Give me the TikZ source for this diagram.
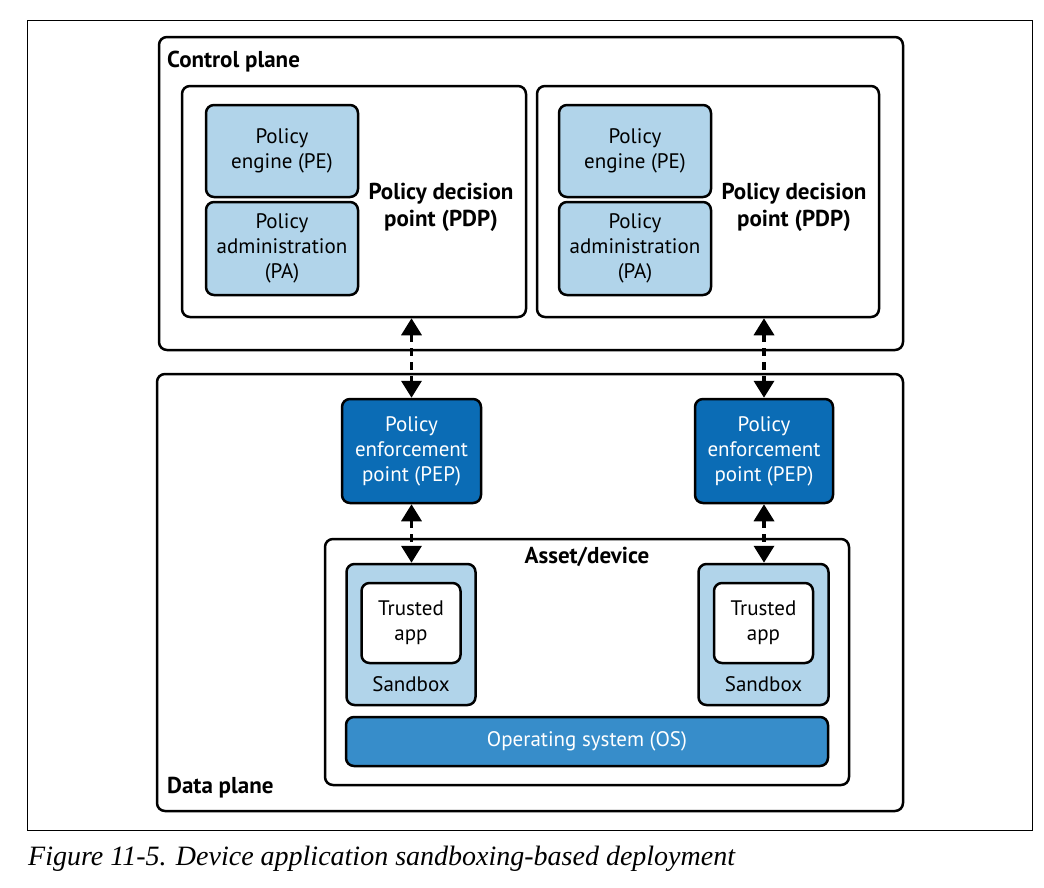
\documentclass[tikz,border=0pt]{standalone}
\usepackage{fontspec}
\setmainfont{PT Sans}
\newfontfamily\capfont{Liberation Serif}
\usetikzlibrary{arrows.meta}
\definecolor{lightblue}{HTML}{B1D4EA}
\definecolor{pepblue}{HTML}{0B6CB5}
\definecolor{osblue}{HTML}{378DCA}
\begin{document}
\begin{tikzpicture}[x=1pt,y=-1pt,
  box/.style={draw, line width=2.5pt, rounded corners=8pt, inner sep=0pt, align=center},
  plain/.style={box, fill=white},
  lb/.style={box, fill=lightblue, font=\fontsize{21}{25}\selectfont},
  pep/.style={box, fill=pepblue, text=white, font=\fontsize{21}{25}\selectfont},
  os/.style={box, fill=osblue, text=white, font=\fontsize{21}{25}\selectfont},
  title/.style={inner sep=0pt, font=\bfseries\fontsize{23}{27}\selectfont, align=center},
  lab/.style={inner sep=0pt, font=\fontsize{21}{25}\selectfont, align=center},
  conn/.style={line width=3.5pt, dash pattern=on 8pt off 6pt,
    {Triangle[length=17pt,width=20pt]}-{Triangle[length=17pt,width=20pt]}}
]
\useasboundingbox (0,0) rectangle (1044,887);
\node[draw, line width=1pt, inner sep=0pt, minimum width=1005, minimum height=810] (frame) at (529.5,425) {};

% control plane
\node[plain, minimum width=744, minimum height=313] (cp) at (531,193.5) {};
\node[title, anchor=west] (cpl) at (167,62) {Control plane};
\node[plain, minimum width=344, minimum height=231] (pdpL) at (354,201.5) {};
\node[plain, minimum width=342, minimum height=231] (pdpR) at (708,201.5) {};
\node[lb, minimum width=152, minimum height=92] (peL) at (282,151) {Policy\\engine (PE)};
\node[lb, minimum width=152, minimum height=93] (paL) at (282,248.5) {Policy\\administration\\(PA)};
\node[lb, minimum width=152, minimum height=92] (peR) at (635,151) {Policy\\engine (PE)};
\node[lb, minimum width=152, minimum height=93] (paR) at (635,248.5) {Policy\\administration\\(PA)};
\node[title] (pdpLt) at (441,207) {Policy decision\\point (PDP)};
\node[title] (pdpRt) at (794,207) {Policy decision\\point (PDP)};

% data plane
\node[plain, minimum width=746, minimum height=437] (dp) at (530,592.5) {};
\node[title, anchor=west] (dpl) at (167,788) {Data plane};
\node[pep, minimum width=139, minimum height=104] (pepL) at (411.5,451) {Policy\\enforcement\\point (PEP)};
\node[pep, minimum width=138, minimum height=104] (pepR) at (764,451) {Policy\\enforcement\\point (PEP)};

\node[plain, minimum width=524, minimum height=246] (asset) at (587,662) {};
\node[title] (assetl) at (587,557) {Asset/device};
\node[lb, minimum width=129, minimum height=141] (sbL) at (411,634.5) {};
\node[lb, minimum width=130, minimum height=141] (sbR) at (763.5,634.5) {};
\node[plain, minimum width=99, minimum height=80, font=\fontsize{21}{25}\selectfont] (taL) at (411,623) {Trusted\\app};
\node[plain, minimum width=99, minimum height=80, font=\fontsize{21}{25}\selectfont] (taR) at (763.5,623) {Trusted\\app};
\node[lab] (sbLl) at (411,684) {Sandbox};
\node[lab] (sbRl) at (763.5,684) {Sandbox};
\node[os, minimum width=482, minimum height=49] (os) at (587,741.5) {Operating system (OS)};

% connectors
\draw[conn] (pepL.north |- pdpL.south) -- (pepL.north);
\draw[conn] (pepR.north |- pdpR.south) -- (pepR.north);
\draw[conn] (pepL.south) -- (pepL.south |- sbL.north);
\draw[conn] (pepR.south) -- (pepR.south |- sbR.north);

% caption
\node[anchor=base west, inner sep=0pt, font=\capfont\itshape\fontsize{28}{30}\selectfont] (cap) at (28,865) {Figure 11-5. Device application sandboxing-based deployment};
\end{tikzpicture}
\end{document}
